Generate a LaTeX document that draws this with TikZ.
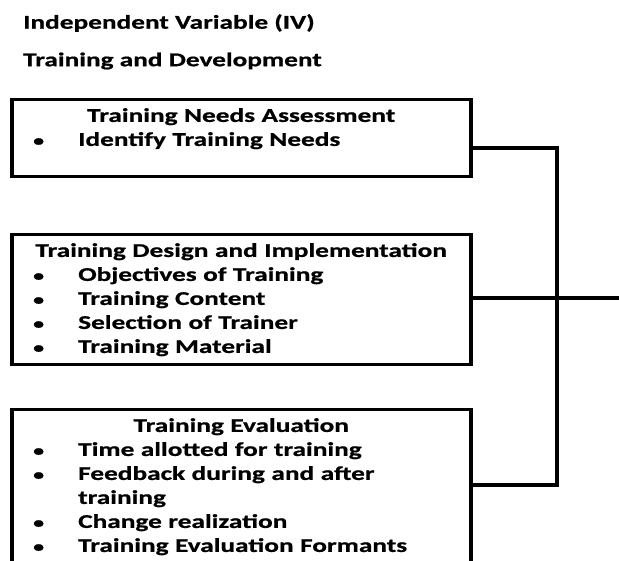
\documentclass[tikz,border=0pt]{standalone}
\usepackage{fontspec}
\setmainfont{Carlito}[FakeStretch=1.4, BoldFeatures={FakeBold=0.8}]
\usetikzlibrary{positioning}

\newcommand{\itembullet}{\makebox[48pt][l]{\hspace{3pt}\scalebox{0.8}{\textbullet}}}
\newcommand{\boxhead}[1]{\makebox[422pt]{#1}}

\begin{document}
\begin{tikzpicture}[x=1pt, y=-1pt,
    font=\bfseries\fontsize{19.5}{24}\selectfont,
    heading/.style={anchor=west, inner sep=0pt},
    factor/.style={draw, line width=3.5pt, anchor=north west, minimum width=459pt, inner sep=0pt},
    entries/.style={anchor=north west, inner sep=0pt, text width=422pt, align=left},
    link/.style={line width=3.5pt}]
  \useasboundingbox (0,0) rectangle (619,561);
  \clip (0,0) rectangle (619,561);
  % headings
  \node[heading] (iv) at (23,23) {Independent Variable (IV)};
  \node[heading] (td) at (23,61) {Training and Development};
  % the three dimension boxes
  \node[factor, minimum height=77pt] (tna) at (10,98) {};
  \node[factor, minimum height=130pt] (tdi) at (10,233) {};
  \node[factor, minimum height=200pt] (tev) at (10,408) {};
  \node[entries, below right=10pt and 20pt of tna.north west] (tna list) {%
    \boxhead{Training Needs Assessment}\\
    \itembullet Identify Training Needs};
  \node[entries, below right=10pt and 20pt of tdi.north west] (tdi list) {%
    \boxhead{Training Design and Implementation}\\
    \itembullet Objectives of Training\\
    \itembullet Training Content\\
    \itembullet Selection of Trainer\\
    \itembullet Training Material};
  \node[entries, below right=10pt and 20pt of tev.north west] (tev list) {%
    \boxhead{Training Evaluation}\\
    \itembullet Time allotted for training\\
    \itembullet Feedback during and after\\
    \hspace*{48pt}training\\
    \itembullet Change realization\\
    \itembullet Training Evaluation Formants};
  % connectors to the right
  \coordinate (joint top) at (557,148);
  \coordinate (joint bottom) at (557,485);
  \coordinate (out) at (619,298);
  \draw[link] (tna.east |- joint top) -- (joint top) -- (joint bottom) -- (tev.east |- joint bottom);
  \draw[link] (tdi.east |- out) -- (out);
\end{tikzpicture}
\end{document}
